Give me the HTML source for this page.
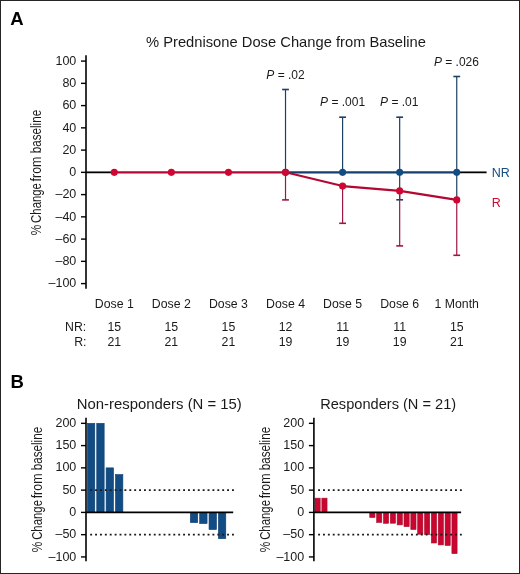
<!DOCTYPE html>
<html><head><meta charset="utf-8"><style>
html,body{margin:0;padding:0;background:#fff;}
.wrap{position:relative;width:518px;height:572px;border:1px solid #252525;overflow:hidden;}
svg{position:absolute;left:-1px;top:-1px;will-change:transform;}
text{font-family:"Liberation Sans", sans-serif;}
</style></head><body><div class="wrap">
<svg width="520" height="574" viewBox="0 0 520 574">
<text x="10.30" y="24.90" font-size="18.5" text-anchor="start" fill="#000" font-weight="bold" >A</text>
<text x="146.00" y="46.60" font-size="15" text-anchor="start" fill="#1a1a1a" textLength="280" lengthAdjust="spacingAndGlyphs" >% Prednisone Dose Change from Baseline</text>
<line x1="86.00" y1="55.20" x2="86.00" y2="288.80" stroke="#000" stroke-width="1.6"/>
<line x1="81.00" y1="283.60" x2="86.00" y2="283.60" stroke="#000" stroke-width="1.4"/>
<text x="76.30" y="287.40" font-size="12.5" text-anchor="end" fill="#1a1a1a" >&#8211;100</text>
<line x1="81.00" y1="261.35" x2="86.00" y2="261.35" stroke="#000" stroke-width="1.4"/>
<text x="76.30" y="265.15" font-size="12.5" text-anchor="end" fill="#1a1a1a" >&#8211;80</text>
<line x1="81.00" y1="239.10" x2="86.00" y2="239.10" stroke="#000" stroke-width="1.4"/>
<text x="76.30" y="242.90" font-size="12.5" text-anchor="end" fill="#1a1a1a" >&#8211;60</text>
<line x1="81.00" y1="216.85" x2="86.00" y2="216.85" stroke="#000" stroke-width="1.4"/>
<text x="76.30" y="220.65" font-size="12.5" text-anchor="end" fill="#1a1a1a" >&#8211;40</text>
<line x1="81.00" y1="194.60" x2="86.00" y2="194.60" stroke="#000" stroke-width="1.4"/>
<text x="76.30" y="198.40" font-size="12.5" text-anchor="end" fill="#1a1a1a" >&#8211;20</text>
<line x1="81.00" y1="172.35" x2="86.00" y2="172.35" stroke="#000" stroke-width="1.4"/>
<text x="76.30" y="176.15" font-size="12.5" text-anchor="end" fill="#1a1a1a" >0</text>
<line x1="81.00" y1="150.10" x2="86.00" y2="150.10" stroke="#000" stroke-width="1.4"/>
<text x="76.30" y="153.90" font-size="12.5" text-anchor="end" fill="#1a1a1a" >20</text>
<line x1="81.00" y1="127.85" x2="86.00" y2="127.85" stroke="#000" stroke-width="1.4"/>
<text x="76.30" y="131.65" font-size="12.5" text-anchor="end" fill="#1a1a1a" >40</text>
<line x1="81.00" y1="105.60" x2="86.00" y2="105.60" stroke="#000" stroke-width="1.4"/>
<text x="76.30" y="109.40" font-size="12.5" text-anchor="end" fill="#1a1a1a" >60</text>
<line x1="81.00" y1="83.35" x2="86.00" y2="83.35" stroke="#000" stroke-width="1.4"/>
<text x="76.30" y="87.15" font-size="12.5" text-anchor="end" fill="#1a1a1a" >80</text>
<line x1="81.00" y1="61.10" x2="86.00" y2="61.10" stroke="#000" stroke-width="1.4"/>
<text x="76.30" y="64.90" font-size="12.5" text-anchor="end" fill="#1a1a1a" >100</text>
<text transform="translate(41.00,230.00) rotate(-90)" x="0" y="0" font-size="15.5" text-anchor="middle" fill="#1a1a1a" textLength="10.5" lengthAdjust="spacingAndGlyphs">%</text>
<text transform="translate(41.00,203.00) rotate(-90)" x="0" y="0" font-size="15.5" text-anchor="middle" fill="#1a1a1a" textLength="39.8" lengthAdjust="spacingAndGlyphs">Change</text>
<text transform="translate(41.00,169.00) rotate(-90)" x="0" y="0" font-size="15.5" text-anchor="middle" fill="#1a1a1a" textLength="24.8" lengthAdjust="spacingAndGlyphs">from</text>
<text transform="translate(41.00,131.60) rotate(-90)" x="0" y="0" font-size="15.5" text-anchor="middle" fill="#1a1a1a" textLength="43.5" lengthAdjust="spacingAndGlyphs">baseline</text>
<line x1="86.00" y1="172.35" x2="114.27" y2="172.35" stroke="#000" stroke-width="1.8"/>
<line x1="456.75" y1="172.35" x2="486.60" y2="172.35" stroke="#000" stroke-width="1.8"/>
<line x1="285.51" y1="89.50" x2="285.51" y2="172.35" stroke="#1c3f66" stroke-width="1.2"/>
<line x1="282.11" y1="89.50" x2="288.91" y2="89.50" stroke="#1c3f66" stroke-width="1.6"/>
<line x1="342.59" y1="117.20" x2="342.59" y2="172.35" stroke="#1c3f66" stroke-width="1.2"/>
<line x1="339.19" y1="117.20" x2="345.99" y2="117.20" stroke="#1c3f66" stroke-width="1.6"/>
<line x1="399.67" y1="117.20" x2="399.67" y2="199.80" stroke="#1c3f66" stroke-width="1.2"/>
<line x1="396.27" y1="117.20" x2="403.07" y2="117.20" stroke="#1c3f66" stroke-width="1.6"/>
<line x1="396.27" y1="199.80" x2="403.07" y2="199.80" stroke="#1c3f66" stroke-width="1.6"/>
<line x1="456.75" y1="76.50" x2="456.75" y2="199.90" stroke="#1c3f66" stroke-width="1.2"/>
<line x1="453.35" y1="76.50" x2="460.15" y2="76.50" stroke="#1c3f66" stroke-width="1.6"/>
<line x1="285.51" y1="172.35" x2="456.75" y2="172.35" stroke="#153f6d" stroke-width="2.1"/>
<circle cx="285.51" cy="172.35" r="3.55" fill="#134b83"/>
<circle cx="342.59" cy="172.35" r="3.55" fill="#134b83"/>
<circle cx="399.67" cy="172.35" r="3.55" fill="#134b83"/>
<circle cx="456.75" cy="172.35" r="3.55" fill="#134b83"/>
<line x1="285.51" y1="172.35" x2="285.51" y2="199.90" stroke="#9c1840" stroke-width="1.2"/>
<line x1="282.11" y1="199.90" x2="288.91" y2="199.90" stroke="#9c1840" stroke-width="1.6"/>
<line x1="342.59" y1="186.10" x2="342.59" y2="223.30" stroke="#9c1840" stroke-width="1.2"/>
<line x1="339.19" y1="223.30" x2="345.99" y2="223.30" stroke="#9c1840" stroke-width="1.6"/>
<line x1="399.67" y1="190.90" x2="399.67" y2="245.90" stroke="#9c1840" stroke-width="1.2"/>
<line x1="396.27" y1="245.90" x2="403.07" y2="245.90" stroke="#9c1840" stroke-width="1.6"/>
<line x1="456.75" y1="199.90" x2="456.75" y2="255.30" stroke="#9c1840" stroke-width="1.2"/>
<line x1="453.35" y1="255.30" x2="460.15" y2="255.30" stroke="#9c1840" stroke-width="1.6"/>
<polyline points="114.27,172.35 171.35,172.35 228.43,172.35 285.51,172.35 342.59,186.10 399.67,190.90 456.75,199.90" fill="none" stroke="#b40833" stroke-width="2.1" stroke-linejoin="round"/>
<circle cx="114.27" cy="172.35" r="3.55" fill="#cf0631"/>
<circle cx="171.35" cy="172.35" r="3.55" fill="#cf0631"/>
<circle cx="228.43" cy="172.35" r="3.55" fill="#cf0631"/>
<circle cx="285.51" cy="172.35" r="3.55" fill="#cf0631"/>
<circle cx="342.59" cy="186.10" r="3.55" fill="#cf0631"/>
<circle cx="399.67" cy="190.90" r="3.55" fill="#cf0631"/>
<circle cx="456.75" cy="199.90" r="3.55" fill="#cf0631"/>
<text x="266.30" y="78.80" font-size="12" fill="#1a1a1a"><tspan font-style="italic">P</tspan> = .02</text>
<text x="320.10" y="106.20" font-size="12" fill="#1a1a1a"><tspan font-style="italic">P</tspan> = .001</text>
<text x="380.10" y="106.20" font-size="12" fill="#1a1a1a"><tspan font-style="italic">P</tspan> = .01</text>
<text x="433.90" y="65.80" font-size="12" fill="#1a1a1a"><tspan font-style="italic">P</tspan> = .026</text>
<text x="491.80" y="176.50" font-size="12.5" text-anchor="start" fill="#134b83" >NR</text>
<text x="491.80" y="207.20" font-size="12.5" text-anchor="start" fill="#cf0631" >R</text>
<text x="114.27" y="307.90" font-size="12.3" text-anchor="middle" fill="#1a1a1a" >Dose 1</text>
<text x="114.27" y="331.30" font-size="12.3" text-anchor="middle" fill="#1a1a1a" >15</text>
<text x="114.27" y="345.80" font-size="12.3" text-anchor="middle" fill="#1a1a1a" >21</text>
<text x="171.35" y="307.90" font-size="12.3" text-anchor="middle" fill="#1a1a1a" >Dose 2</text>
<text x="171.35" y="331.30" font-size="12.3" text-anchor="middle" fill="#1a1a1a" >15</text>
<text x="171.35" y="345.80" font-size="12.3" text-anchor="middle" fill="#1a1a1a" >21</text>
<text x="228.43" y="307.90" font-size="12.3" text-anchor="middle" fill="#1a1a1a" >Dose 3</text>
<text x="228.43" y="331.30" font-size="12.3" text-anchor="middle" fill="#1a1a1a" >15</text>
<text x="228.43" y="345.80" font-size="12.3" text-anchor="middle" fill="#1a1a1a" >21</text>
<text x="285.51" y="307.90" font-size="12.3" text-anchor="middle" fill="#1a1a1a" >Dose 4</text>
<text x="285.51" y="331.30" font-size="12.3" text-anchor="middle" fill="#1a1a1a" >12</text>
<text x="285.51" y="345.80" font-size="12.3" text-anchor="middle" fill="#1a1a1a" >19</text>
<text x="342.59" y="307.90" font-size="12.3" text-anchor="middle" fill="#1a1a1a" >Dose 5</text>
<text x="342.59" y="331.30" font-size="12.3" text-anchor="middle" fill="#1a1a1a" >11</text>
<text x="342.59" y="345.80" font-size="12.3" text-anchor="middle" fill="#1a1a1a" >19</text>
<text x="399.67" y="307.90" font-size="12.3" text-anchor="middle" fill="#1a1a1a" >Dose 6</text>
<text x="399.67" y="331.30" font-size="12.3" text-anchor="middle" fill="#1a1a1a" >11</text>
<text x="399.67" y="345.80" font-size="12.3" text-anchor="middle" fill="#1a1a1a" >19</text>
<text x="456.75" y="307.90" font-size="12.3" text-anchor="middle" fill="#1a1a1a" >1 Month</text>
<text x="456.75" y="331.30" font-size="12.3" text-anchor="middle" fill="#1a1a1a" >15</text>
<text x="456.75" y="345.80" font-size="12.3" text-anchor="middle" fill="#1a1a1a" >21</text>
<text x="86.30" y="331.30" font-size="12.3" text-anchor="end" fill="#1a1a1a" >NR:</text>
<text x="86.50" y="345.80" font-size="12.3" text-anchor="end" fill="#1a1a1a" >R:</text>
<text x="10.60" y="387.50" font-size="18.5" text-anchor="start" fill="#000" font-weight="bold" >B</text>
<text x="76.80" y="408.90" font-size="15" text-anchor="start" fill="#1a1a1a" textLength="165" lengthAdjust="spacingAndGlyphs" >Non-responders (N = 15)</text>
<text x="320.20" y="409.20" font-size="15" text-anchor="start" fill="#1a1a1a" textLength="136" lengthAdjust="spacingAndGlyphs" >Responders (N = 21)</text>
<rect x="87.40" y="423.34" width="7.4" height="89.06" fill="#124c84" stroke="#0d3d6c" stroke-width="0.6"/>
<rect x="96.76" y="423.34" width="7.4" height="89.06" fill="#124c84" stroke="#0d3d6c" stroke-width="0.6"/>
<rect x="106.11" y="467.87" width="7.4" height="44.53" fill="#124c84" stroke="#0d3d6c" stroke-width="0.6"/>
<rect x="115.47" y="474.55" width="7.4" height="37.85" fill="#124c84" stroke="#0d3d6c" stroke-width="0.6"/>
<rect x="190.33" y="512.40" width="7.4" height="10.24" fill="#124c84" stroke="#0d3d6c" stroke-width="0.6"/>
<rect x="199.68" y="512.40" width="7.4" height="11.13" fill="#124c84" stroke="#0d3d6c" stroke-width="0.6"/>
<rect x="209.04" y="512.40" width="7.4" height="17.14" fill="#124c84" stroke="#0d3d6c" stroke-width="0.6"/>
<rect x="218.40" y="512.40" width="7.4" height="26.27" fill="#124c84" stroke="#0d3d6c" stroke-width="0.6"/>
<line x1="90.20" y1="490.13" x2="234.00" y2="490.13" stroke="#1a1a1a" stroke-width="1.7" stroke-dasharray="1.9 2.99"/>
<line x1="90.20" y1="534.66" x2="234.00" y2="534.66" stroke="#1a1a1a" stroke-width="1.7" stroke-dasharray="1.9 2.99"/>
<line x1="86.00" y1="512.40" x2="233.20" y2="512.40" stroke="#000" stroke-width="1.75"/>
<line x1="86.00" y1="417.80" x2="86.00" y2="561.30" stroke="#000" stroke-width="1.6"/>
<line x1="81.00" y1="556.93" x2="86.00" y2="556.93" stroke="#000" stroke-width="1.4"/>
<text x="76.30" y="560.53" font-size="12.5" text-anchor="end" fill="#1a1a1a" >&#8211;100</text>
<line x1="81.00" y1="534.66" x2="86.00" y2="534.66" stroke="#000" stroke-width="1.4"/>
<text x="76.30" y="538.26" font-size="12.5" text-anchor="end" fill="#1a1a1a" >&#8211;50</text>
<line x1="81.00" y1="512.40" x2="86.00" y2="512.40" stroke="#000" stroke-width="1.4"/>
<text x="76.30" y="516.00" font-size="12.5" text-anchor="end" fill="#1a1a1a" >0</text>
<line x1="81.00" y1="490.13" x2="86.00" y2="490.13" stroke="#000" stroke-width="1.4"/>
<text x="76.30" y="493.74" font-size="12.5" text-anchor="end" fill="#1a1a1a" >50</text>
<line x1="81.00" y1="467.87" x2="86.00" y2="467.87" stroke="#000" stroke-width="1.4"/>
<text x="76.30" y="471.47" font-size="12.5" text-anchor="end" fill="#1a1a1a" >100</text>
<line x1="81.00" y1="445.60" x2="86.00" y2="445.60" stroke="#000" stroke-width="1.4"/>
<text x="76.30" y="449.20" font-size="12.5" text-anchor="end" fill="#1a1a1a" >150</text>
<line x1="81.00" y1="423.34" x2="86.00" y2="423.34" stroke="#000" stroke-width="1.4"/>
<text x="76.30" y="426.94" font-size="12.5" text-anchor="end" fill="#1a1a1a" >200</text>
<text transform="translate(41.70,546.95) rotate(-90)" x="0" y="0" font-size="15.5" text-anchor="middle" fill="#1a1a1a" textLength="10.5" lengthAdjust="spacingAndGlyphs">%</text>
<text transform="translate(41.70,519.95) rotate(-90)" x="0" y="0" font-size="15.5" text-anchor="middle" fill="#1a1a1a" textLength="39.8" lengthAdjust="spacingAndGlyphs">Change</text>
<text transform="translate(41.70,485.95) rotate(-90)" x="0" y="0" font-size="15.5" text-anchor="middle" fill="#1a1a1a" textLength="24.8" lengthAdjust="spacingAndGlyphs">from</text>
<text transform="translate(41.70,448.55) rotate(-90)" x="0" y="0" font-size="15.5" text-anchor="middle" fill="#1a1a1a" textLength="43.5" lengthAdjust="spacingAndGlyphs">baseline</text>
<rect x="315.00" y="498.15" width="5.2" height="14.25" fill="#c8062f" stroke="#a8102e" stroke-width="0.6"/>
<rect x="321.85" y="498.15" width="5.2" height="14.25" fill="#c8062f" stroke="#a8102e" stroke-width="0.6"/>
<rect x="369.76" y="512.40" width="5.2" height="5.12" fill="#c8062f" stroke="#a8102e" stroke-width="0.6"/>
<rect x="376.61" y="512.40" width="5.2" height="10.02" fill="#c8062f" stroke="#a8102e" stroke-width="0.6"/>
<rect x="383.45" y="512.40" width="5.2" height="10.91" fill="#c8062f" stroke="#a8102e" stroke-width="0.6"/>
<rect x="390.30" y="512.40" width="5.2" height="10.82" fill="#c8062f" stroke="#a8102e" stroke-width="0.6"/>
<rect x="397.14" y="512.40" width="5.2" height="12.47" fill="#c8062f" stroke="#a8102e" stroke-width="0.6"/>
<rect x="403.99" y="512.40" width="5.2" height="14.25" fill="#c8062f" stroke="#a8102e" stroke-width="0.6"/>
<rect x="410.83" y="512.40" width="5.2" height="17.14" fill="#c8062f" stroke="#a8102e" stroke-width="0.6"/>
<rect x="417.68" y="512.40" width="5.2" height="21.82" fill="#c8062f" stroke="#a8102e" stroke-width="0.6"/>
<rect x="424.52" y="512.40" width="5.2" height="22.04" fill="#c8062f" stroke="#a8102e" stroke-width="0.6"/>
<rect x="431.37" y="512.40" width="5.2" height="30.59" fill="#c8062f" stroke="#a8102e" stroke-width="0.6"/>
<rect x="438.21" y="512.40" width="5.2" height="32.51" fill="#c8062f" stroke="#a8102e" stroke-width="0.6"/>
<rect x="445.06" y="512.40" width="5.2" height="33.09" fill="#c8062f" stroke="#a8102e" stroke-width="0.6"/>
<rect x="451.90" y="512.40" width="5.2" height="41.23" fill="#c8062f" stroke="#a8102e" stroke-width="0.6"/>
<line x1="318.10" y1="490.13" x2="461.90" y2="490.13" stroke="#1a1a1a" stroke-width="1.7" stroke-dasharray="1.9 2.99"/>
<line x1="318.10" y1="534.66" x2="461.90" y2="534.66" stroke="#1a1a1a" stroke-width="1.7" stroke-dasharray="1.9 2.99"/>
<line x1="313.90" y1="512.40" x2="461.10" y2="512.40" stroke="#000" stroke-width="1.75"/>
<line x1="313.90" y1="417.80" x2="313.90" y2="561.30" stroke="#000" stroke-width="1.6"/>
<line x1="308.90" y1="556.93" x2="313.90" y2="556.93" stroke="#000" stroke-width="1.4"/>
<text x="304.20" y="560.53" font-size="12.5" text-anchor="end" fill="#1a1a1a" >&#8211;100</text>
<line x1="308.90" y1="534.66" x2="313.90" y2="534.66" stroke="#000" stroke-width="1.4"/>
<text x="304.20" y="538.26" font-size="12.5" text-anchor="end" fill="#1a1a1a" >&#8211;50</text>
<line x1="308.90" y1="512.40" x2="313.90" y2="512.40" stroke="#000" stroke-width="1.4"/>
<text x="304.20" y="516.00" font-size="12.5" text-anchor="end" fill="#1a1a1a" >0</text>
<line x1="308.90" y1="490.13" x2="313.90" y2="490.13" stroke="#000" stroke-width="1.4"/>
<text x="304.20" y="493.74" font-size="12.5" text-anchor="end" fill="#1a1a1a" >50</text>
<line x1="308.90" y1="467.87" x2="313.90" y2="467.87" stroke="#000" stroke-width="1.4"/>
<text x="304.20" y="471.47" font-size="12.5" text-anchor="end" fill="#1a1a1a" >100</text>
<line x1="308.90" y1="445.60" x2="313.90" y2="445.60" stroke="#000" stroke-width="1.4"/>
<text x="304.20" y="449.20" font-size="12.5" text-anchor="end" fill="#1a1a1a" >150</text>
<line x1="308.90" y1="423.34" x2="313.90" y2="423.34" stroke="#000" stroke-width="1.4"/>
<text x="304.20" y="426.94" font-size="12.5" text-anchor="end" fill="#1a1a1a" >200</text>
<text transform="translate(269.90,546.95) rotate(-90)" x="0" y="0" font-size="15.5" text-anchor="middle" fill="#1a1a1a" textLength="10.5" lengthAdjust="spacingAndGlyphs">%</text>
<text transform="translate(269.90,519.95) rotate(-90)" x="0" y="0" font-size="15.5" text-anchor="middle" fill="#1a1a1a" textLength="39.8" lengthAdjust="spacingAndGlyphs">Change</text>
<text transform="translate(269.90,485.95) rotate(-90)" x="0" y="0" font-size="15.5" text-anchor="middle" fill="#1a1a1a" textLength="24.8" lengthAdjust="spacingAndGlyphs">from</text>
<text transform="translate(269.90,448.55) rotate(-90)" x="0" y="0" font-size="15.5" text-anchor="middle" fill="#1a1a1a" textLength="43.5" lengthAdjust="spacingAndGlyphs">baseline</text>
</svg></div></body></html>
